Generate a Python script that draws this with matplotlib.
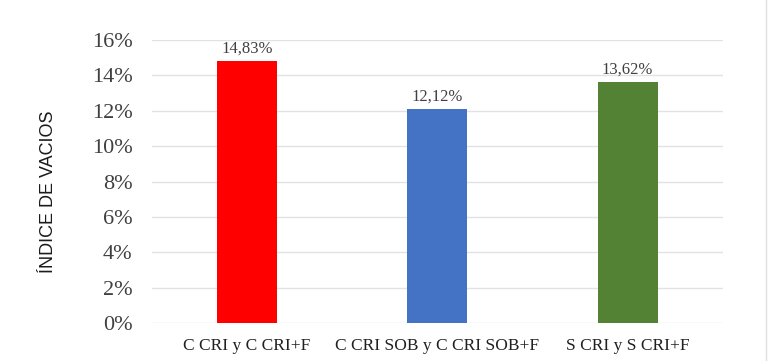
import matplotlib
matplotlib.use("Agg")
import matplotlib.pyplot as plt
from matplotlib.lines import Line2D

# DATA
categories = ["C CRI y C CRI+F", "C CRI SOB y C CRI SOB+F", "S CRI y S CRI+F"]
values = [14.83, 12.12, 13.62]
bar_colors = ["#FF0000", "#4472C4", "#548235"]
y_ticks = [0, 2, 4, 6, 8, 10, 12, 14, 16]

fig = plt.figure(figsize=(7.68, 3.61), dpi=100)
ax = fig.add_axes([0.198, 0.105, 0.743, 0.784])

x = range(len(categories))
bars = ax.bar(x, values, width=0.315, color=bar_colors, zorder=3)

for xi, v in zip(x, values):
    ax.text(xi, v + 0.25, f"{v:.2f}%".replace(".", ","),
            ha="center", va="bottom", fontsize=12,
            family="Liberation Serif", color="#404040")

ax.set_xlim(-0.5, 2.5)
ax.set_ylim(0, 16)
ax.set_yticks(y_ticks)
ax.set_yticklabels([f"{t}%" for t in y_ticks], family="Liberation Serif",
                   fontsize=16, color="#404040")
ax.set_xticks(list(x))
ax.set_xticklabels(categories, family="Liberation Serif", fontsize=12.5,
                   color="#202020")
ax.tick_params(axis="both", length=0)
ax.tick_params(axis="y", pad=14)
ax.tick_params(axis="x", pad=11)

ax.grid(axis="y", color="#e2e2e2", linewidth=1, zorder=0)
for s in ax.spines.values():
    s.set_visible(False)

fig.text(0.063, 0.47, "ÍNDICE DE VACIOS", rotation=90, ha="center",
         va="center", family="Liberation Sans", fontsize=13, color="#1a1a1a")

# thin frame line at the right edge
fig.add_artist(Line2D([0.997, 0.997], [0, 1], color="#e0e0e0", linewidth=1))

plt.savefig("out.png", dpi=100)
plt.close()
